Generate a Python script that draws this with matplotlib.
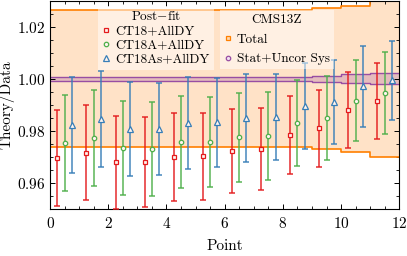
import numpy as np
import matplotlib
matplotlib.use("Agg")
import matplotlib.pyplot as plt
from matplotlib.lines import Line2D
from matplotlib.ticker import MultipleLocator

plt.rcParams['font.family'] = 'cmr10'
plt.rcParams['mathtext.fontset'] = 'cm'
plt.rcParams['axes.formatter.use_mathtext'] = True
plt.rcParams['xtick.direction'] = 'in'
plt.rcParams['ytick.direction'] = 'in'
plt.rcParams['xtick.top'] = True
plt.rcParams['ytick.right'] = True

# data points (theory/data) per measurement point
points = np.arange(12)
ct18 = [0.9695, 0.9716, 0.9679, 0.9679, 0.9700, 0.9702, 0.9722, 0.9731, 0.9785, 0.9809, 0.9881, 0.9916]
ct18_err = [0.0185, 0.0182, 0.0178, 0.0173, 0.0170, 0.0166, 0.0160, 0.0157, 0.0150, 0.0149, 0.0146, 0.0146]
ct18a = [0.9753, 0.9773, 0.9734, 0.9731, 0.9756, 0.9757, 0.9775, 0.9780, 0.9829, 0.9849, 0.9916, 0.9944]
ct18a_err = [0.0186, 0.0185, 0.0182, 0.0180, 0.0176, 0.0173, 0.0170, 0.0168, 0.0166, 0.0162, 0.0157, 0.0158]
ct18as = [0.9822, 0.9845, 0.9807, 0.9807, 0.9831, 0.9833, 0.9849, 0.9852, 0.9895, 0.9909, 0.9970, 0.9994]
ct18as_err = [0.0186, 0.0186, 0.0181, 0.0177, 0.0177, 0.0171, 0.0168, 0.0165, 0.0165, 0.0161, 0.0155, 0.0151]

# CMS13Z uncertainty bands (half widths around 1)
total_unc = [0.0262, 0.0262, 0.0262, 0.0262, 0.0262, 0.0262, 0.0262, 0.0262, 0.0264, 0.0270, 0.0280, 0.0300]
stat_unc = [0.0008, 0.0008, 0.0008, 0.0008, 0.0008, 0.0008, 0.0008, 0.0008, 0.0008, 0.0012, 0.0016, 0.0021]

c_red = '#e41a1c'
c_green = '#4daf4a'
c_blue = '#377eb8'
c_orange = '#ff7f00'
c_purple = '#984ea3'

fig = plt.figure(figsize=(4.07, 2.56), dpi=100)
ax = fig.add_axes([0.123, 0.184, 0.858, 0.814])

edges = np.arange(13)
tot = np.array(total_unc + [total_unc[-1]])
sta = np.array(stat_unc + [stat_unc[-1]])

ax.fill_between(edges, 1 - tot, 1 + tot, step='post', color=c_orange, alpha=0.22, lw=0)
ax.step(edges, 1 + tot, where='post', color=c_orange, lw=1.2)
ax.step(edges, 1 - tot, where='post', color=c_orange, lw=1.2)
ax.fill_between(edges, 1 - sta, 1 + sta, step='post', color=c_purple, alpha=0.25, lw=0)
ax.step(edges, 1 + sta, where='post', color=c_purple, lw=1.0)
ax.step(edges, 1 - sta, where='post', color=c_purple, lw=1.0)

series = [
    (ct18, ct18_err, 0.25, c_red, 's', 3.2, 'CT18+AllDY'),
    (ct18a, ct18a_err, 0.5, c_green, 'o', 3.2, 'CT18A+AllDY'),
    (ct18as, ct18as_err, 0.75, c_blue, '^', 3.8, 'CT18As+AllDY'),
]
handles = []
for vals, errs, off, col, mk, ms, lab in series:
    ax.errorbar(points + off, vals, yerr=errs, fmt='none', ecolor=col, alpha=0.85,
                elinewidth=1.2, capsize=2.2, capthick=1.2, zorder=3)
    ax.plot(points + off, vals, ls='none', marker=mk, ms=ms, mec=col, mfc='#fff4ee',
            mew=0.9, zorder=4)
    handles.append(Line2D([], [], ls='none', marker=mk, ms=ms, mec=col, mfc='#fff4ee', mew=0.9, label=lab))

ax.set_xlim(0, 12)
ax.set_ylim(0.95, 1.03)
ax.xaxis.set_major_locator(MultipleLocator(2))
ax.xaxis.set_minor_locator(MultipleLocator(0.5))
ax.yaxis.set_major_locator(MultipleLocator(0.02))
ax.yaxis.set_minor_locator(MultipleLocator(0.005))
ax.tick_params(which='major', length=3.5, width=0.7, labelsize=11)
ax.tick_params(axis='x', which='major', pad=5)
ax.tick_params(which='minor', length=2, width=0.6)
for s in ax.spines.values():
    s.set_linewidth(0.8)
ax.set_xlabel('Point', fontsize=11)
ax.set_ylabel('Theory/Data', fontsize=11)
ax.yaxis.set_label_coords(-0.103, 0.5)
ax.xaxis.set_label_coords(0.5, -0.145)

leg1 = ax.legend(handles=handles, title='Post$-$fit', loc='upper center',
                 bbox_to_anchor=(0.303, 1.005), fontsize=9.5, title_fontsize=9.5,
                 handlelength=0.6, handletextpad=0.4, labelspacing=0.15,
                 borderpad=0.3, fancybox=False, frameon=True, framealpha=0.5,
                 facecolor='white', edgecolor='none')
ax.add_artist(leg1)

cms_handles = [
    Line2D([], [], ls='none', marker='s', ms=3.2, mec=c_orange, mfc='#ffd9b0', mew=0.9, label='Total'),
    Line2D([], [], ls='none', marker='o', ms=3.2, mec=c_purple, mfc='#f0e0f0', mew=0.9, label='Stat+Uncor Sys'),
]
leg2 = ax.legend(handles=cms_handles, title='CMS13Z', loc='upper center',
                 bbox_to_anchor=(0.649, 0.985), fontsize=9.5, title_fontsize=9.5,
                 handlelength=0.6, handletextpad=0.4, labelspacing=0.55,
                 borderpad=0.3, fancybox=False, frameon=True, framealpha=0.5,
                 facecolor='white', edgecolor='none')

fig.savefig('out.png', dpi=100)
